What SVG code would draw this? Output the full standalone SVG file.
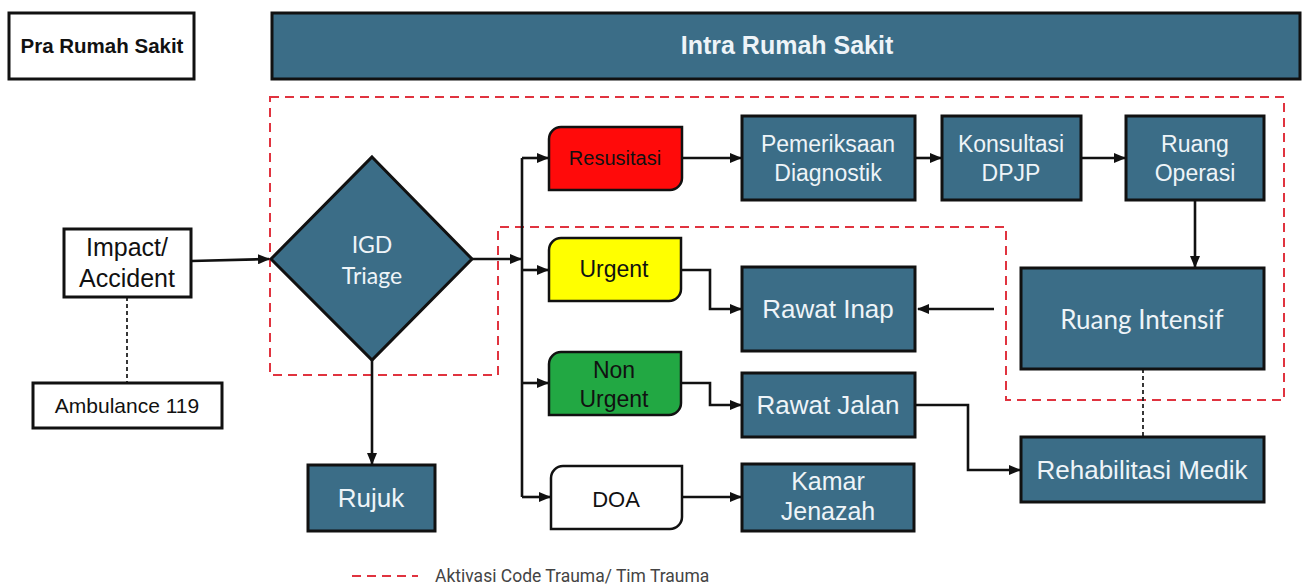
<svg xmlns="http://www.w3.org/2000/svg" width="1309" height="588" viewBox="0 0 1309 588">
<defs>
<style>
.box{fill:#3b6d87;stroke:#111;stroke-width:3}
.wbox{fill:#fff;stroke:#111;stroke-width:3}
.t{font-family:"Liberation Sans",Arial,sans-serif;fill:#eef4f8;text-anchor:middle}
.tk{font-family:"Liberation Sans",Arial,sans-serif;fill:#111;text-anchor:middle}
.tc{font-family:Lato,"Open Sans",sans-serif;fill:#eef4f8;text-anchor:middle}
.ln{fill:none;stroke:#111;stroke-width:2.6}
.dash{fill:none;stroke:#222;stroke-width:1.8;stroke-dasharray:4 3}
.red{fill:none;stroke:#e0333f;stroke-width:2;stroke-dasharray:9 6}
</style>
<marker id="ah" markerUnits="userSpaceOnUse" markerWidth="12" markerHeight="10" refX="11" refY="5" orient="auto">
<path d="M0,0 L12,5 L0,10 Z" fill="#111"/>
</marker>
</defs>
<rect width="1309" height="588" fill="#fff"/>

<g id="pra-rumah-sakit">
<rect class="wbox" x="9" y="13" width="185" height="66"/>
<text class="tk" x="102" y="53" font-size="20.5" font-weight="bold">Pra Rumah Sakit</text>
</g>
<g id="intra-rumah-sakit">
<rect class="box" x="272" y="13" width="1028" height="66"/>
<text class="t" x="787" y="54" font-size="25" font-weight="bold" fill="#fff">Intra Rumah Sakit</text>
</g>

<g id="trauma-zone">
<path class="red" d="M270,97 H1284 V400 H1006 V227 H498 V375 H270 Z"/>
</g>

<g id="connectors">
<line class="dash" x1="127" y1="297" x2="127" y2="383"/>
<line class="dash" x1="1143" y1="369" x2="1143" y2="437"/>
<path class="ln" d="M191,261 L269,259" marker-end="url(#ah)"/>
<path class="ln" d="M472,259 H521" marker-end="url(#ah)"/>
<path class="ln" d="M372,360 V464" marker-end="url(#ah)"/>
<path class="ln" d="M522,158 V497"/>
<path class="ln" d="M522,158 H548" marker-end="url(#ah)"/>
<path class="ln" d="M522,270 H548" marker-end="url(#ah)"/>
<path class="ln" d="M522,383 H548" marker-end="url(#ah)"/>
<path class="ln" d="M522,497 H550" marker-end="url(#ah)"/>
<path class="ln" d="M682,158 H741" marker-end="url(#ah)"/>
<path class="ln" d="M915,158 H941" marker-end="url(#ah)"/>
<path class="ln" d="M1081,158 H1125" marker-end="url(#ah)"/>
<path class="ln" d="M1195,200 V267" marker-end="url(#ah)"/>
<path class="ln" d="M994,309 H918" marker-end="url(#ah)"/>
<path class="ln" d="M681,270 H710 V309 H741" marker-end="url(#ah)"/>
<path class="ln" d="M681,383 H710 V405 H741" marker-end="url(#ah)"/>
<path class="ln" d="M915,405 H968 V470 H1020" marker-end="url(#ah)"/>
<path class="ln" d="M682,497 H741" marker-end="url(#ah)"/>
</g>

<g id="impact">
<rect class="wbox" x="64" y="229" width="127" height="68"/>
<text class="tk" x="127" y="256" font-size="25">Impact/</text>
<text class="tk" x="127" y="287" font-size="25">Accident</text>
</g>
<g id="ambulance">
<rect class="wbox" x="33" y="383" width="189" height="45"/>
<text class="tk" x="127" y="413" font-size="21">Ambulance 119</text>
</g>

<g id="igd-triage">
<path class="box" d="M372,157 L472,259 L372,360 L271,259 Z"/>
<text class="tc" x="372" y="253" font-size="23">IGD</text>
<text class="tc" x="372" y="284" font-size="23">Triage</text>
</g>

<g id="rujuk">
<rect class="box" x="308" y="465" width="127" height="66"/>
<text class="t" x="371" y="507" font-size="26">Rujuk</text>
</g>

<g id="resusitasi">
<path d="M561,127 H682 V178 A12,12 0 0 1 670,190 H549 V139 A12,12 0 0 1 561,127 Z" fill="#ff0a0a" stroke="#111" stroke-width="2.5"/>
<text class="tk" x="615" y="165" font-size="20" fill="#3a0a0a">Resusitasi</text>
</g>
<g id="urgent">
<path d="M561,238 H681 V289 A12,12 0 0 1 669,301 H549 V250 A12,12 0 0 1 561,238 Z" fill="#ffff00" stroke="#111" stroke-width="2.5"/>
<text class="tk" x="614" y="277" font-size="23">Urgent</text>
</g>
<g id="non-urgent">
<path d="M561,352 H681 V403 A12,12 0 0 1 669,415 H549 V364 A12,12 0 0 1 561,352 Z" fill="#22a843" stroke="#111" stroke-width="2.5"/>
<text class="tk" x="614" y="378" font-size="23">Non</text>
<text class="tk" x="614" y="407" font-size="23">Urgent</text>
</g>
<g id="doa">
<path d="M563,466 H682 V517 A12,12 0 0 1 670,529 H551 V478 A12,12 0 0 1 563,466 Z" fill="#fff" stroke="#111" stroke-width="2.5"/>
<text class="tk" x="616" y="507" font-size="22">DOA</text>
</g>

<g id="pemeriksaan-diagnostik">
<rect class="box" x="742" y="116" width="173" height="84"/>
<text class="t" x="828" y="152" font-size="23">Pemeriksaan</text>
<text class="t" x="828" y="181" font-size="23">Diagnostik</text>
</g>
<g id="konsultasi-dpjp">
<rect class="box" x="942" y="116" width="139" height="84"/>
<text class="t" x="1011" y="152" font-size="23">Konsultasi</text>
<text class="t" x="1011" y="181" font-size="23">DPJP</text>
</g>
<g id="ruang-operasi">
<rect class="box" x="1126" y="116" width="138" height="84"/>
<text class="t" x="1195" y="152" font-size="23">Ruang</text>
<text class="t" x="1195" y="181" font-size="23">Operasi</text>
</g>
<g id="ruang-intensif">
<rect class="box" x="1021" y="268" width="243" height="101"/>
<text class="tc" x="1142" y="329" font-size="26">Ruang Intensif</text>
</g>
<g id="rawat-inap">
<rect class="box" x="742" y="267" width="173" height="84"/>
<text class="t" x="828" y="318" font-size="26">Rawat Inap</text>
</g>
<g id="rawat-jalan">
<rect class="box" x="742" y="373" width="173" height="64"/>
<text class="t" x="828" y="414" font-size="26">Rawat Jalan</text>
</g>
<g id="kamar-jenazah">
<rect class="box" x="742" y="464" width="172" height="67"/>
<text class="t" x="828" y="490" font-size="25">Kamar</text>
<text class="t" x="828" y="520" font-size="25">Jenazah</text>
</g>
<g id="rehabilitasi-medik">
<rect class="box" x="1021" y="437" width="243" height="65"/>
<text class="t" x="1142" y="479" font-size="26">Rehabilitasi Medik</text>
</g>

<g id="legend">
<line class="red" x1="352" y1="576" x2="418" y2="576"/>
<text x="435" y="582" font-family="Roboto,'Liberation Sans',sans-serif" font-size="17.5" fill="#444">Aktivasi Code Trauma/ Tim Trauma</text>
</g>
</svg>
